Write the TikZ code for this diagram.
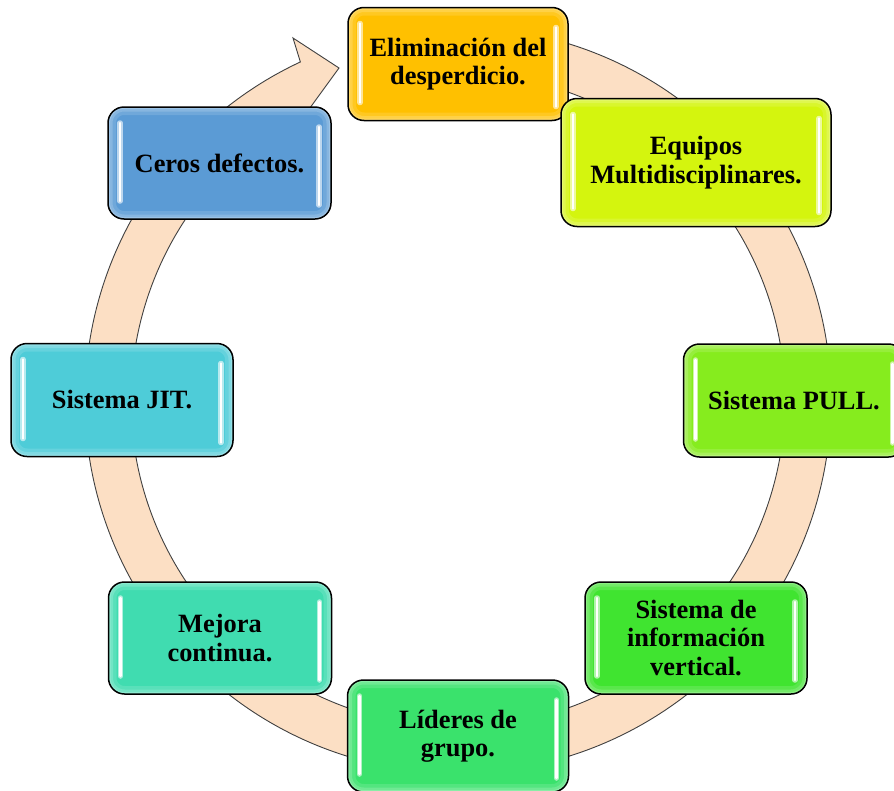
\documentclass[tikz,border=0pt]{standalone}
\usepackage{fontspec}
\setmainfont{Liberation Serif}
\usetikzlibrary{calc}

% palette
\definecolor{ringfill}{HTML}{FCDFC4}
\definecolor{ringline}{HTML}{404040}
\definecolor{cElim}{HTML}{FFC000}
\definecolor{cEquip}{HTML}{D4F50E}
\definecolor{cPull}{HTML}{86EC1E}
\definecolor{cInfo}{HTML}{40E430}
\definecolor{cLider}{HTML}{3AE26C}
\definecolor{cMejora}{HTML}{40DCB0}
\definecolor{cJit}{HTML}{4ECCD8}
\definecolor{cCeros}{HTML}{5B9BD5}

\tikzset{
  stage/.style={draw=black, line width=1.5pt, rounded corners=16pt, inner sep=0pt,
    align=center, text=black, font=\fontsize{26.4}{28.5}\selectfont\bfseries},
  % glossy fill: light rim inside the border and two vertical glints
  gloss/.style={fill=#1, path picture={
    \begin{scope}[rounded corners=16pt]
      \draw[#1!40!white, opacity=0.22, line width=16pt]
        (path picture bounding box.south west) rectangle (path picture bounding box.north east);
      \draw[#1!40!white, opacity=0.30, line width=9pt]
        (path picture bounding box.south west) rectangle (path picture bounding box.north east);
      \draw[#1!40!white, opacity=0.40, line width=4pt]
        (path picture bounding box.south west) rectangle (path picture bounding box.north east);
    \end{scope}
    \draw[#1!25!white, opacity=0.8, line width=5.5pt, line cap=round]
      ([shift={(12pt,-16pt)}]path picture bounding box.north west) --
      ([shift={(12pt,18pt)}]path picture bounding box.south west);
    \draw[white, line width=2.2pt, line cap=round]
      ([shift={(12pt,-16pt)}]path picture bounding box.north west) --
      ([shift={(12pt,18pt)}]path picture bounding box.south west);
    \draw[#1!25!white, opacity=0.8, line width=5.5pt, line cap=round]
      ([shift={(-12pt,-20pt)}]path picture bounding box.north east) --
      ([shift={(-12pt,14pt)}]path picture bounding box.south east);
    \draw[white, line width=2.2pt, line cap=round]
      ([shift={(-12pt,-20pt)}]path picture bounding box.north east) --
      ([shift={(-12pt,14pt)}]path picture bounding box.south east);
  }},
  ringstyle/.style={fill=ringfill, draw=ringline, line width=0.9pt, line join=miter},
}

\begin{document}
\begin{tikzpicture}[x=1pt, y=-1pt]
  \path[use as bounding box] (0,0) rectangle (894,790);
  \clip (0,0) rectangle (894,790);

  \coordinate (C) at (458,400);

  % circular arrow running clockwise, head pointing at the top stage
  \path[ringstyle]
    ($(C)+(-80:373)$) arc[start angle=-80, end angle=245, radius=373]
    -- (293,38) -- (339,68) -- (307,112)
    -- ($(C)+(242.5:327)$) arc[start angle=242.5, end angle=-80, radius=327]
    -- cycle;

  % stages
  \node[stage, gloss=cElim, minimum width=220pt, minimum height=113pt]
    (elim) at (458,64) {Eliminación del\\desperdicio.};
  \node[stage, gloss=cEquip, minimum width=270pt, minimum height=128pt]
    (equipos) at (696,162.5) {Equipos\\Multidisciplinares.};
  \node[stage, gloss=cPull, minimum width=221pt, minimum height=113pt]
    (pull) at (794,400.5) {Sistema PULL.};
  \node[stage, gloss=cInfo, minimum width=222pt, minimum height=112pt]
    (info) at (696,638) {Sistema de\\información\\vertical.};
  \node[stage, gloss=cLider, minimum width=221pt, minimum height=112pt]
    (lideres) at (458,736) {Líderes de\\grupo.};
  \node[stage, gloss=cMejora, minimum width=223pt, minimum height=112pt]
    (mejora) at (220,638) {Mejora\\continua.};
  \node[stage, gloss=cJit, minimum width=222pt, minimum height=113pt]
    (jit) at (122,400) {Sistema JIT.};
  \node[stage, gloss=cCeros, minimum width=223pt, minimum height=112pt]
    (ceros) at (219.5,163) {Ceros defectos.};
\end{tikzpicture}
\end{document}
